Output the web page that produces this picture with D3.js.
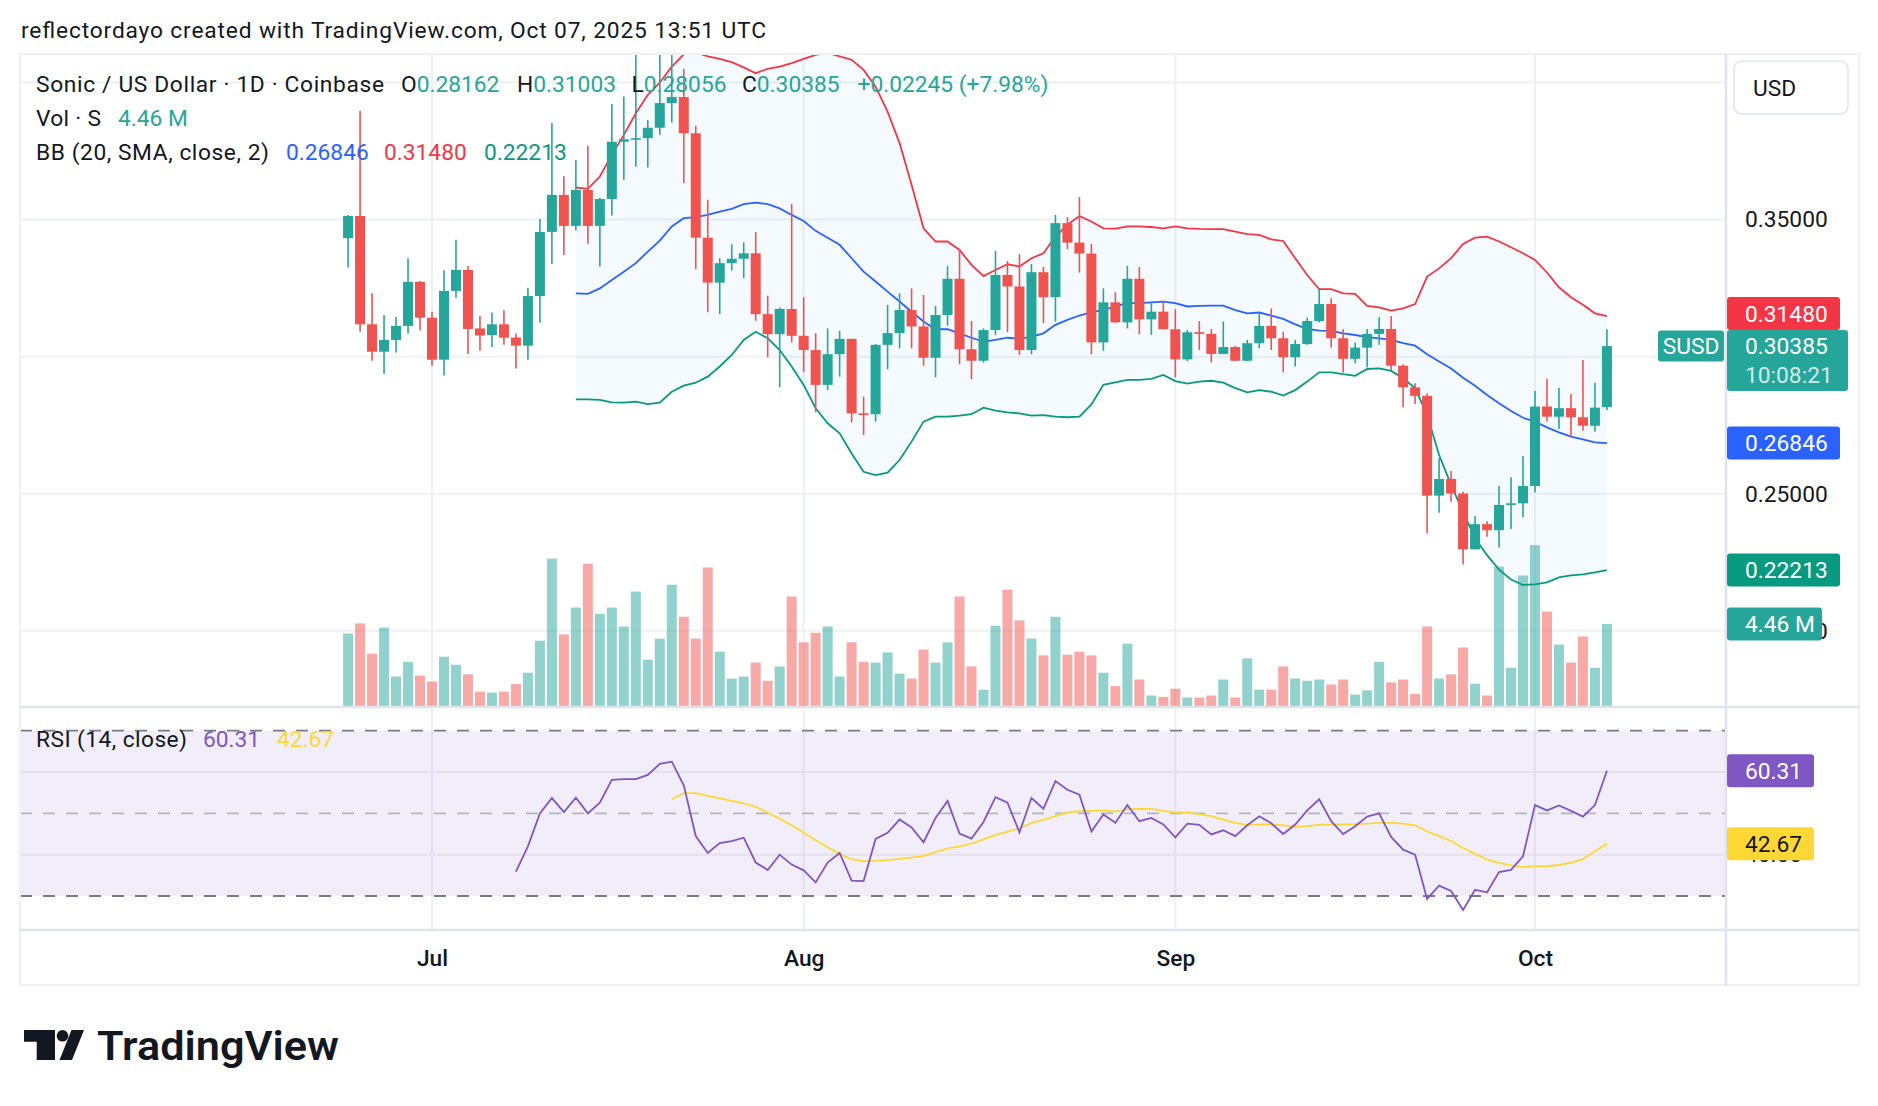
<!DOCTYPE html>
<html><head><meta charset="utf-8">
<script src="https://cdn.jsdelivr.net/npm/d3@7/dist/d3.min.js"></script>
<style>
html,body{margin:0;padding:0;background:#fff;}
svg{display:block;}
text{font-family:Roboto,"Noto Sans",Arial,sans-serif;}
</style></head>
<body>
<svg id="chart" width="1878" height="1106"></svg>
<script>
// ================= DATA =================
const firstDay = "2025-06-24";
const opens = [0.3432,0.3513,0.3118,0.3018,0.3061,0.3112,0.3273,0.3142,0.2989,0.3240,
 0.3316,0.3103,0.3079,0.3118,0.3070,0.3040,0.3221,0.3455,0.3590,0.3477,
 0.3608,0.3477,0.3575,0.3784,0.3793,0.3797,0.3835,0.3925,0.3947,0.3815,
 0.3434,0.3270,0.3341,0.3357,0.3377,0.3155,0.3082,0.3174,0.3076,0.3024,
 0.2897,0.3009,0.3065,0.2793,0.2790,0.3043,0.3086,0.3170,0.3110,0.2996,
 0.3152,0.3284,0.3027,0.2985,0.3097,0.3298,0.3256,0.3024,0.3308,0.3217,
 0.3487,0.3416,0.3376,0.3052,0.3198,0.3125,0.3284,0.3136,0.3164,0.3100,
 0.2990,0.3089,0.3083,0.3010,0.3035,0.2985,0.3049,0.3112,0.3067,0.2998,
 0.3046,0.3130,0.3192,0.3067,0.2992,0.3033,0.3083,0.3101,0.2967,0.2888,
 0.2857,0.2493,0.2554,0.2501,0.2297,0.2389,0.2367,0.2459,0.2465,0.2528,
 0.2818,0.2781,0.2812,0.2779,0.2748,0.28162];
const highs = [0.3517,0.3897,0.3231,0.3152,0.3145,0.3359,0.3276,0.3164,0.3315,0.3426,
 0.3331,0.3148,0.3161,0.3169,0.3084,0.3251,0.3502,0.3852,0.3658,0.3717,
 0.3769,0.3580,0.3922,0.3949,0.4150,0.3863,0.4130,0.4160,0.4050,0.3842,
 0.3572,0.3359,0.3410,0.3417,0.3454,0.3222,0.3179,0.3557,0.3217,0.3085,
 0.3103,0.3094,0.3065,0.2854,0.3046,0.3189,0.3231,0.3249,0.3225,0.3185,
 0.3331,0.3393,0.3130,0.3103,0.3386,0.3349,0.3374,0.3338,0.3327,0.3517,
 0.3509,0.3582,0.3412,0.3249,0.3235,0.3331,0.3327,0.3197,0.3204,0.3173,
 0.3097,0.3130,0.3101,0.3128,0.3039,0.3061,0.3161,0.3176,0.3091,0.3061,
 0.3142,0.3249,0.3213,0.3100,0.3052,0.3101,0.3144,0.3148,0.2972,0.2903,
 0.2866,0.2629,0.2583,0.2507,0.2419,0.2400,0.2528,0.2560,0.2638,0.2875,
 0.2919,0.2887,0.2864,0.2988,0.2905,0.31003];
const lows = [0.3325,0.3091,0.2985,0.2937,0.3015,0.3084,0.3095,0.2967,0.2931,0.3215,
 0.3010,0.3022,0.3035,0.3043,0.2957,0.2989,0.3124,0.3338,0.3371,0.3460,
 0.3412,0.3329,0.3515,0.3645,0.3693,0.3690,0.3809,0.3854,0.3633,0.3319,
 0.3162,0.3155,0.3314,0.3286,0.3131,0.2998,0.2888,0.3052,0.2943,0.2797,
 0.2878,0.2927,0.2760,0.2714,0.2763,0.2954,0.3030,0.3030,0.2967,0.2925,
 0.3113,0.2972,0.2917,0.2978,0.3079,0.3089,0.3006,0.3009,0.3122,0.3128,
 0.3392,0.3307,0.3009,0.3021,0.3124,0.3103,0.3082,0.3079,0.3099,0.2925,
 0.2984,0.3024,0.2979,0.3009,0.2984,0.2984,0.3030,0.3024,0.2943,0.2964,
 0.3043,0.3125,0.3033,0.2942,0.2976,0.2960,0.3043,0.2951,0.2815,0.2827,
 0.2355,0.2431,0.2471,0.2242,0.2297,0.2343,0.2304,0.2371,0.2414,0.2504,
 0.2763,0.2735,0.2708,0.2730,0.2726,0.28056];
const closes = [0.3513,0.3118,0.3018,0.3061,0.3112,0.3273,0.3142,0.2989,0.3240,0.3316,
 0.3101,0.3077,0.3118,0.3069,0.3040,0.3221,0.3455,0.3590,0.3477,0.3608,
 0.3477,0.3575,0.3784,0.3793,0.3797,0.3835,0.3925,0.3947,0.3815,0.3434,
 0.3270,0.3341,0.3357,0.3377,0.3155,0.3082,0.3174,0.3076,0.3024,0.2897,
 0.3009,0.3065,0.2793,0.2790,0.3043,0.3086,0.3170,0.3110,0.2996,0.3152,
 0.3284,0.3027,0.2985,0.3097,0.3298,0.3256,0.3024,0.3308,0.3217,0.3487,
 0.3416,0.3376,0.3052,0.3198,0.3125,0.3284,0.3136,0.3164,0.3100,0.2990,
 0.3089,0.3083,0.3010,0.3035,0.2985,0.3049,0.3112,0.3067,0.2998,0.3046,
 0.3130,0.3192,0.3067,0.2992,0.3033,0.3083,0.3101,0.2967,0.2888,0.2857,
 0.2493,0.2554,0.2501,0.2297,0.2389,0.2367,0.2459,0.2465,0.2528,0.2818,
 0.2781,0.2812,0.2779,0.2748,0.2814,0.30385];
// volume in millions
const volumes = [3.94,4.49,2.84,4.26,1.60,2.40,1.65,1.33,2.68,2.24,
 1.72,0.78,0.73,0.78,1.19,1.81,3.55,8.01,3.89,5.35,
 7.73,5.01,5.35,4.32,6.22,2.52,3.66,6.59,4.85,3.66,
 7.53,2.95,1.49,1.60,2.36,1.37,2.15,5.95,3.46,3.98,
 4.32,1.60,3.46,2.40,2.36,2.91,1.76,1.49,3.07,2.36,
 3.46,5.95,2.15,0.89,4.37,6.32,4.65,3.66,2.75,4.85,
 2.79,2.95,2.75,1.81,1.08,3.39,1.44,0.57,0.50,0.94,
 0.46,0.46,0.57,1.44,0.46,2.59,0.89,0.89,2.15,1.49,
 1.37,1.44,1.17,1.44,0.62,0.85,2.40,1.28,1.44,0.66,
 4.32,1.49,1.72,3.18,1.21,0.57,7.57,2.08,7.09,8.74,
 5.13,3.34,2.36,3.78,2.08,4.46];
// Bollinger Bands (20, SMA, close, 2) — first value on bar index 19
const bbStart = 19;
const bbUpper = [0.3617,0.3612,0.3657,0.3736,0.3809,0.3888,0.3955,0.4000,0.4058,0.4103,
 0.4110,0.4095,0.4086,0.4074,0.4055,0.4034,0.4050,0.4058,0.4071,0.4086,
 0.4101,0.4108,0.4095,0.4083,0.4046,0.3985,0.3894,0.3779,0.3627,0.3468,
 0.3420,0.3420,0.3389,0.3335,0.3294,0.3316,0.3337,0.3329,0.3359,0.3377,
 0.3438,0.3481,0.3513,0.3493,0.3468,0.3467,0.3475,0.3475,0.3473,0.3468,
 0.3475,0.3468,0.3466,0.3465,0.3465,0.3456,0.3447,0.3444,0.3428,0.3422,
 0.3359,0.3298,0.3246,0.3246,0.3231,0.3229,0.3185,0.3180,0.3168,0.3176,
 0.3192,0.3292,0.3322,0.3359,0.3411,0.3434,0.3438,0.3420,0.3399,0.3377,
 0.3353,0.3307,0.3253,0.3217,0.3189,0.3158,0.3148];
const bbBasis = [0.3231,0.3229,0.3249,0.3280,0.3310,0.3341,0.3383,0.3423,0.3475,0.3505,
 0.3509,0.3517,0.3529,0.3539,0.3556,0.3562,0.3556,0.3541,0.3517,0.3495,
 0.3459,0.3434,0.3408,0.3359,0.3310,0.3274,0.3237,0.3201,0.3164,0.3128,
 0.3100,0.3100,0.3085,0.3069,0.3055,0.3061,0.3069,0.3065,0.3073,0.3085,
 0.3116,0.3134,0.3150,0.3162,0.3170,0.3183,0.3195,0.3195,0.3198,0.3201,
 0.3195,0.3183,0.3185,0.3186,0.3186,0.3170,0.3158,0.3161,0.3150,0.3138,
 0.3118,0.3101,0.3095,0.3094,0.3085,0.3079,0.3071,0.3067,0.3061,0.3049,
 0.3040,0.3009,0.2982,0.2957,0.2923,0.2894,0.2860,0.2830,0.2802,0.2777,
 0.2763,0.2742,0.2724,0.2708,0.2698,0.2687,0.26846];
const bbLower = [0.2844,0.2844,0.2842,0.2833,0.2832,0.2836,0.2827,0.2832,0.2872,0.2894,
 0.2905,0.2927,0.2964,0.3006,0.3061,0.3091,0.3067,0.3024,0.2964,0.2897,
 0.2812,0.2757,0.2720,0.2647,0.2580,0.2568,0.2577,0.2623,0.2690,0.2763,
 0.2781,0.2781,0.2785,0.2790,0.2814,0.2803,0.2797,0.2793,0.2785,0.2787,
 0.2781,0.2779,0.2781,0.2826,0.2897,0.2906,0.2915,0.2915,0.2919,0.2933,
 0.2911,0.2902,0.2909,0.2912,0.2905,0.2885,0.2870,0.2878,0.2872,0.2858,
 0.2878,0.2909,0.2943,0.2943,0.2936,0.2930,0.2955,0.2957,0.2948,0.2921,
 0.2885,0.2787,0.2641,0.2532,0.2434,0.2337,0.2276,0.2223,0.2187,0.2167,
 0.2169,0.2177,0.2195,0.2202,0.2206,0.2213,0.22213];
// RSI (14, close) — first value on bar index 14; its MA from index 27
const rsiStart = 14;
const rsiValues = [35.9,42.0,50.0,53.7,50.3,53.8,50.0,52.6,58.1,58.3,
 58.3,59.3,62.0,62.5,56.8,44.5,40.4,42.8,43.3,44.1,
 38.1,36.3,40.0,37.6,36.2,33.3,38.1,40.4,33.7,33.6,
 43.8,45.3,48.5,46.6,43.0,48.9,53.0,45.1,43.9,47.9,
 53.9,52.6,45.4,53.7,51.1,57.8,55.7,54.5,45.6,49.7,
 47.7,52.0,48.1,48.9,47.3,44.2,47.5,47.2,44.9,45.9,
 44.5,47.1,49.3,47.6,45.0,47.3,50.7,53.4,48.1,45.0,
 46.9,49.2,50.0,44.3,41.2,40.0,29.3,32.5,31.2,26.6,
 31.5,30.9,35.8,36.3,39.6,52.0,50.7,51.9,50.6,49.2,
 52.0,60.31];
const rsiMaStart = 27;
const rsiMaValues = [53.4,54.9,54.9,54.2,53.6,53.0,52.4,51.6,50.2,48.7,
 47.1,45.3,43.5,41.8,40.2,38.9,38.4,38.5,38.7,39.0,
 39.3,39.7,40.6,41.5,42.0,42.7,43.7,44.8,45.6,46.4,
 47.7,48.4,49.3,50.2,50.5,50.6,50.7,50.4,51.0,51.1,
 51.1,50.6,50.2,50.2,49.8,49.3,48.5,47.7,47.2,47.3,
 47.3,47.1,46.7,46.9,47.2,47.3,47.3,47.4,47.5,47.7,
 47.7,47.5,47.1,45.6,44.5,43.3,41.6,40.2,38.8,38.0,
 37.4,37.0,37.2,37.2,37.5,38.1,38.9,40.8,42.67];

const priceGrid = [0.20,0.25,0.30,0.35,0.40];
const priceTickLabels = [0.20,0.25,0.35];
const rsiGridTicks = [40,60];
const rsiTickLabels = [40];
const rsiBand = [30,70];
const monthTicks = ["2025-07-01","2025-08-01","2025-09-01","2025-10-01"];
const headerText = "reflectordayo created with TradingView.com, Oct 07, 2025 13:51 UTC";
const symbolTitle = "Sonic / US Dollar · 1D · Coinbase";
const ohlcLast = [["O","0.28162"],["H","0.31003"],["L","0.28056"],["C","0.30385"]];
const changeText = "+0.02245 (+7.98%)";
const volText = "4.46 M";
const countdown = "10:08:21";
const bbLegend = ["0.26846","0.31480","0.22213"];
const rsiLegend = ["60.31","42.67"];

// ================= LAYOUT =================
const L=20, PR=1726, AR=1859, MT=54, MB=707, RB=930, TB=985;
const UP="#26a69a", DN="#ef5350";
const FS=22.75;
const svg = d3.select("#chart");
const parse = d3.utcParse("%Y-%m-%d");
const d0 = parse(firstDay);
const dates = d3.range(opens.length).map(i=>d3.utcDay.offset(d0,i));
const x = d3.scaleUtc().domain([parse("2025-07-01"), parse("2025-10-01")]).range([432,1535]);
const y = d3.scaleLinear().domain([0.1722,0.4104]).range([MB,MT]);
const yVol = d3.scaleLinear().domain([0,10]).range([706,522]);
const yR = d3.scaleLinear().domain([21.77,75.73]).range([RB,MB]);

const defs = svg.append("defs");
defs.append("clipPath").attr("id","cpMain").append("rect").attr("x",L).attr("y",MT).attr("width",PR-L).attr("height",MB-MT);
defs.append("clipPath").attr("id","cpRsi").append("rect").attr("x",L).attr("y",MB).attr("width",PR-L).attr("height",RB-MB);

// header
svg.append("text").attr("x",21).attr("y",38).attr("font-size",FS).attr("fill","#131722")
  .attr("textLength",745).text(headerText);

// grid
const grid = svg.append("g");
grid.selectAll(".hg").data(priceGrid).join("line")
  .attr("x1",L).attr("x2",PR).attr("y1",d=>y(d)).attr("y2",d=>y(d))
  .attr("stroke","#eef0f4").attr("stroke-width",2);
grid.selectAll(".vg").data(monthTicks).join("line")
  .attr("x1",d=>x(parse(d))).attr("x2",d=>x(parse(d))).attr("y1",MT).attr("y2",RB)
  .attr("stroke","#eef0f4").attr("stroke-width",2);

// main pane
const main = svg.append("g").attr("clip-path","url(#cpMain)");
const bw = 10;
main.selectAll(".vol").data(volumes).join("rect")
  .attr("x",(d,i)=>x(dates[i])-bw/2).attr("width",bw)
  .attr("y",d=>yVol(d)).attr("height",d=>yVol(0)-yVol(d))
  .attr("fill",(d,i)=>closes[i]>=opens[i]?"rgba(38,166,154,0.5)":"rgba(239,83,80,0.5)");

const bbIdx = d3.range(bbUpper.length);
main.append("path").datum(bbIdx)
  .attr("d",d3.area().x(k=>x(dates[k+bbStart])).y0(k=>y(bbLower[k])).y1(k=>y(bbUpper[k])))
  .attr("fill","rgba(33,150,243,0.05)");
const lineOf = arr => d3.line().x(k=>x(dates[k+bbStart])).y(k=>y(arr[k]));
main.append("path").datum(bbIdx).attr("d",lineOf(bbUpper)).attr("fill","none").attr("stroke","#f23645").attr("stroke-width",1.8);
main.append("path").datum(bbIdx).attr("d",lineOf(bbBasis)).attr("fill","none").attr("stroke","#2962ff").attr("stroke-width",1.8);
main.append("path").datum(bbIdx).attr("d",lineOf(bbLower)).attr("fill","none").attr("stroke","#089981").attr("stroke-width",1.8);

const cg = main.selectAll(".c").data(opens).join("g");
cg.append("line")
  .attr("x1",(d,i)=>x(dates[i])).attr("x2",(d,i)=>x(dates[i]))
  .attr("y1",(d,i)=>y(highs[i])).attr("y2",(d,i)=>y(lows[i]))
  .attr("stroke",(d,i)=>closes[i]>=opens[i]?UP:DN).attr("stroke-width",1.6);
cg.append("rect")
  .attr("x",(d,i)=>x(dates[i])-bw/2).attr("width",bw)
  .attr("y",(d,i)=>y(Math.max(opens[i],closes[i])))
  .attr("height",(d,i)=>Math.max(1.6, y(Math.min(opens[i],closes[i]))-y(Math.max(opens[i],closes[i]))))
  .attr("fill",(d,i)=>closes[i]>=opens[i]?UP:DN);

// RSI pane
const rp = svg.append("g").attr("clip-path","url(#cpRsi)");
rp.append("rect").attr("x",L).attr("width",PR-L).attr("y",yR(rsiBand[1])).attr("height",yR(rsiBand[0])-yR(rsiBand[1]))
  .attr("fill","rgba(126,87,194,0.1)");
rp.selectAll(".rg").data(rsiGridTicks).join("line")
  .attr("x1",L).attr("x2",PR).attr("y1",d=>yR(d)).attr("y2",d=>yR(d)).attr("stroke","#e4e1ec").attr("stroke-width",2);
rp.selectAll(".rb").data([70,50,30]).join("line")
  .attr("x1",L).attr("x2",PR).attr("y1",d=>yR(d)).attr("y2",d=>yR(d))
  .attr("stroke",d=>d===50?"#b2b5be":"#787b86").attr("stroke-width",1.8).attr("stroke-dasharray","12,11");
const rsiIdx = d3.range(rsiValues.length);
rp.append("path").datum(d3.range(rsiMaValues.length))
  .attr("d",d3.line().x(k=>x(dates[k+rsiMaStart])).y(k=>yR(rsiMaValues[k])))
  .attr("fill","none").attr("stroke","#fdd835").attr("stroke-width",1.8);
rp.append("path").datum(rsiIdx)
  .attr("d",d3.line().x(k=>x(dates[k+rsiStart])).y(k=>yR(rsiValues[k])))
  .attr("fill","none").attr("stroke","#7e57c2").attr("stroke-width",1.8);

// frame / separators
const fr = svg.append("g").attr("fill","none");
fr.append("rect").attr("x",L).attr("y",MT).attr("width",AR-L).attr("height",TB-MT).attr("stroke","#eef0f4").attr("stroke-width",2);
fr.append("line").attr("x1",L).attr("x2",AR).attr("y1",MB).attr("y2",MB).attr("stroke","#e0e3eb").attr("stroke-width",2.5);
fr.append("line").attr("x1",L).attr("x2",AR).attr("y1",RB).attr("y2",RB).attr("stroke","#e0e3eb").attr("stroke-width",2.5);
fr.append("line").attr("x1",PR).attr("x2",PR).attr("y1",MT).attr("y2",TB).attr("stroke","#e0e3eb").attr("stroke-width",2.5);

// axes
const yAxis = d3.axisRight(y).tickValues(priceTickLabels).tickFormat(d3.format(".5f")).tickSize(0).tickPadding(19);
const ya = svg.append("g").attr("transform",`translate(${PR},0)`).call(yAxis);
const rAxis = d3.axisRight(yR).tickValues(rsiTickLabels).tickFormat(d3.format(".2f")).tickSize(0).tickPadding(19);
const ra = svg.append("g").attr("transform",`translate(${PR},0)`).call(rAxis);
const xAxis = d3.axisBottom(x).tickValues(monthTicks.map(parse)).tickFormat(d3.utcFormat("%b")).tickSize(0).tickPadding(20);
const xa = svg.append("g").attr("transform",`translate(0,${RB})`).call(xAxis);
[ya,ra,xa].forEach(g=>{g.select(".domain").remove(); g.selectAll("text").attr("font-size",FS).attr("fill","#131722").attr("font-family","Roboto, sans-serif");});
xa.selectAll("text").attr("font-weight",500);

// USD box
svg.append("rect").attr("x",1734).attr("y",61).attr("width",114).attr("height",53).attr("rx",8)
  .attr("fill","#fff").attr("stroke","#e0e3eb").attr("stroke-width",1.5);
svg.append("text").attr("x",1753).attr("y",88).attr("dy","0.36em").attr("font-size",FS).attr("fill","#131722").text("USD");

// right-axis labels
function axLabel(yc, w, h, bg, fg, txt){
  svg.append("rect").attr("x",PR+1).attr("y",yc-h/2).attr("width",w).attr("height",h).attr("rx",3).attr("fill",bg);
  svg.append("text").attr("x",1745).attr("y",yc).attr("dy","0.36em").attr("font-size",FS).attr("fill",fg).text(txt);
}
const lblH = 33;
let yUpper = y(+bbLegend[1]);
const yCur = y(ohlcLast[3][1]*1);
if (yUpper + lblH/2 > yCur - 16) yUpper = yCur - 16 - lblH/2;
axLabel(yUpper, 113, lblH, "#f23645", "#fff", bbLegend[1]);
// current price label (two lines)
svg.append("rect").attr("x",PR+1).attr("y",yCur-16).attr("width",121).attr("height",61).attr("rx",3).attr("fill",UP);
svg.append("text").attr("x",1745).attr("y",yCur).attr("dy","0.36em").attr("font-size",FS).attr("fill","#fff").text(ohlcLast[3][1]);
svg.append("text").attr("x",1745).attr("y",yCur+29).attr("dy","0.36em").attr("font-size",FS).attr("fill","rgba(255,255,255,0.8)").text(countdown);
axLabel(y(+bbLegend[0]), 113, lblH, "#2962ff", "#fff", bbLegend[0]);
axLabel(y(+bbLegend[2]), 113, lblH, "#089981", "#fff", bbLegend[2]);
axLabel(yVol(volumes[volumes.length-1]), 95, lblH, UP, "#fff", volText);
axLabel(yR(+rsiLegend[0]), 87, lblH, "#7e57c2", "#fff", rsiLegend[0]);
axLabel(yR(+rsiLegend[1]), 87, lblH, "#fdd835", "#131722", rsiLegend[1]);
// symbol label
svg.append("rect").attr("x",1658).attr("y",yCur-15.5).attr("width",66).attr("height",31).attr("rx",3).attr("fill",UP);
svg.append("text").attr("x",1691).attr("y",yCur).attr("dy","0.36em").attr("text-anchor","middle").attr("font-size",FS).attr("fill","#fff").text("SUSD");

// legends
const lg = svg.append("g").attr("font-size",FS).attr("fill","#131722");
lg.append("text").attr("x",36).attr("y",92).attr("textLength",348).text(symbolTitle);
const ohlcX = [401,517,631.5,742];
ohlcLast.forEach((p,k)=>{
  const t = lg.append("text").attr("x",ohlcX[k]).attr("y",92);
  t.append("tspan").text(p[0]);
  t.append("tspan").attr("fill",UP).text(p[1]);
});
lg.append("text").attr("x",857.5).attr("y",92).attr("fill",UP).text(changeText);
lg.append("text").attr("x",36).attr("y",126).attr("textLength",65).text("Vol · S");
lg.append("text").attr("x",118).attr("y",126).attr("fill",UP).text(volText);
lg.append("text").attr("x",36).attr("y",160).attr("textLength",233).text("BB (20, SMA, close, 2)");
const bbCols = ["#2962ff","#f23645","#089981"], bbX=[286,384,484];
bbLegend.forEach((v,k)=>lg.append("text").attr("x",bbX[k]).attr("y",160).attr("fill",bbCols[k]).text(v));
lg.append("text").attr("x",36).attr("y",747).attr("textLength",151).text("RSI (14, close)");
lg.append("text").attr("x",203).attr("y",747).attr("fill","#7e57c2").text(rsiLegend[0]);
lg.append("text").attr("x",277).attr("y",747).attr("fill","#fdd835").text(rsiLegend[1]);

// TradingView logo
const logo = svg.append("g").attr("fill","#131722");
logo.append("path").attr("d","M24,1030 H55 V1060 H36.7 V1041.7 H24 Z");
logo.append("circle").attr("cx",62.5).attr("cy",1035.8).attr("r",5.8);
logo.append("path").attr("d","M71.5,1030 H84 L72,1060 H59.5 Z");
logo.append("text").attr("x",97).attr("y",1060).attr("font-family","Inter, Roboto, sans-serif").attr("font-weight",600)
  .attr("font-size",40).attr("textLength",242).attr("lengthAdjust","spacingAndGlyphs").text("TradingView");
</script>
</body></html>
